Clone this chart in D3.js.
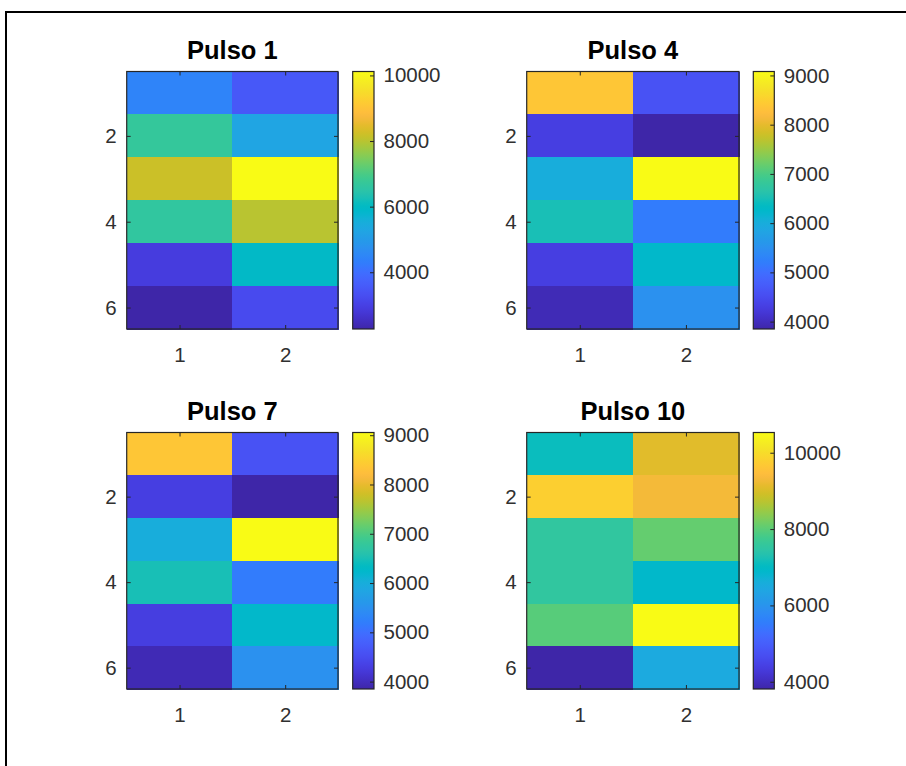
<!DOCTYPE html>
<html>
<head>
<meta charset="utf-8">
<script src="https://cdn.jsdelivr.net/npm/d3@7/dist/d3.min.js"></script>
<style>
  html, body { margin: 0; padding: 0; background: #fff; }
  svg { display: block; }
  .tick text { font-family: "Liberation Sans", Arial, Helvetica, sans-serif; fill: #303030; }
  .tick line { stroke: #262626; }
</style>
</head>
<body>
<svg id="fig" width="906" height="766"></svg>
<script>
// Pulse intensity maps: 6 rows x 2 columns per pulse
const panelTitles = ["Pulso 1", "Pulso 4", "Pulso 7", "Pulso 10"];

const pulso1 = [
  [4450, 3520],
  [6690, 5260],
  [8190, 10120],
  [6630, 8000],
  [2900, 5960],
  [2270, 3210]
];
const pulso4 = [
  [8370, 4600],
  [4305, 3850],
  [6000, 9080],
  [6510, 5180],
  [4300, 6260],
  [3950, 5510]
];
const pulso7 = [
  [8350, 4590],
  [4300, 3850],
  [5990, 9055],
  [6490, 5170],
  [4290, 6240],
  [3940, 5500]
];
const pulso10 = [
  [7100, 9090],
  [9790, 9300],
  [7545, 8080],
  [7545, 6900],
  [7970, 10530],
  [3810, 6490]
];

const xTicks = [1, 2];
const yTicks = [2, 4, 6];
const cbTicks1 = [4000, 6000, 8000, 10000];
const cbTicks4 = [4000, 5000, 6000, 7000, 8000, 9000];
const cbTicks7 = [4000, 5000, 6000, 7000, 8000, 9000];
const cbTicks10 = [4000, 6000, 8000, 10000];

// parula colormap, 64 entries
const parulaRGB = [
[0.2422,0.1504,0.6603],[0.2504,0.1650,0.7076],[0.2578,0.1818,0.7511],[0.2647,0.1978,0.7952],
[0.2706,0.2147,0.8364],[0.2751,0.2342,0.8710],[0.2783,0.2559,0.8991],[0.2803,0.2782,0.9221],
[0.2813,0.3006,0.9414],[0.2810,0.3228,0.9579],[0.2795,0.3447,0.9717],[0.2760,0.3667,0.9829],
[0.2699,0.3892,0.9906],[0.2602,0.4123,0.9952],[0.2440,0.4358,0.9988],[0.2206,0.4603,0.9973],
[0.1963,0.4847,0.9892],[0.1834,0.5074,0.9798],[0.1786,0.5289,0.9682],[0.1764,0.5499,0.9520],
[0.1687,0.5703,0.9359],[0.1540,0.5902,0.9218],[0.1460,0.6091,0.9079],[0.1380,0.6276,0.8973],
[0.1248,0.6459,0.8883],[0.1113,0.6635,0.8763],[0.0952,0.6798,0.8598],[0.0689,0.6948,0.8394],
[0.0297,0.7082,0.8163],[0.0036,0.7203,0.7917],[0.0067,0.7312,0.7660],[0.0433,0.7411,0.7394],
[0.0964,0.7500,0.7120],[0.1408,0.7584,0.6842],[0.1717,0.7670,0.6554],[0.1938,0.7758,0.6251],
[0.2161,0.7843,0.5923],[0.2470,0.7918,0.5567],[0.2906,0.7973,0.5188],[0.3406,0.8008,0.4789],
[0.3909,0.8029,0.4354],[0.4456,0.8024,0.3909],[0.5044,0.7993,0.3480],[0.5616,0.7942,0.3045],
[0.6174,0.7876,0.2612],[0.6720,0.7793,0.2227],[0.7242,0.7698,0.1910],[0.7738,0.7598,0.1646],
[0.8203,0.7498,0.1535],[0.8634,0.7406,0.1596],[0.9035,0.7330,0.1774],[0.9393,0.7288,0.2100],
[0.9728,0.7298,0.2394],[0.9956,0.7434,0.2371],[0.9970,0.7659,0.2199],[0.9952,0.7893,0.2028],
[0.9892,0.8136,0.1885],[0.9786,0.8386,0.1766],[0.9676,0.8639,0.1643],[0.9610,0.8890,0.1537],
[0.9597,0.9135,0.1423],[0.9628,0.9373,0.1265],[0.9691,0.9606,0.1064],[0.9769,0.9839,0.0805]
];
const parulaColors = parulaRGB.map(c => d3.rgb(c[0] * 255, c[1] * 255, c[2] * 255).formatHex());
const parula = d3.piecewise(d3.interpolateRgb, parulaColors);

const FONT = '"Liberation Sans", Arial, Helvetica, sans-serif';
const svg = d3.select("#fig");

svg.append("rect").attr("width", 906).attr("height", 766).attr("fill", "#fff");
// figure frame
svg.append("rect")
  .attr("x", 6).attr("y", 12).attr("width", 1000).attr("height", 1000)
  .attr("fill", "none").attr("stroke", "#000").attr("stroke-width", 2);

const defs = svg.append("defs");
defs.append("linearGradient")
  .attr("id", "parulaGrad")
  .attr("x1", 0).attr("y1", 1).attr("x2", 0).attr("y2", 0)
  .selectAll("stop")
  .data(parulaColors)
  .join("stop")
  .attr("offset", (d, i) => i / (parulaColors.length - 1))
  .attr("stop-color", d => d);

const panels = [
  { title: panelTitles[0], data: pulso1,  cbTicks: cbTicks1,  x0: 126.7, x1: 338,   y0: 71.5,  y1: 329, cx0: 352.7, cx1: 374 },
  { title: panelTitles[1], data: pulso4,  cbTicks: cbTicks4,  x0: 526.7, x1: 739,   y0: 71.5,  y1: 329, cx0: 753.3, cx1: 774.3 },
  { title: panelTitles[2], data: pulso7,  cbTicks: cbTicks7,  x0: 126.7, x1: 338,   y0: 432.5, y1: 689, cx0: 352.7, cx1: 374 },
  { title: panelTitles[3], data: pulso10, cbTicks: cbTicks10, x0: 526.7, x1: 739,   y0: 432.5, y1: 689, cx0: 753.3, cx1: 774.3 }
];

const intFmt = d3.format("d");

panels.forEach(p => {
  const nRows = p.data.length, nCols = p.data[0].length;
  const cells = [];
  p.data.forEach((row, r) => row.forEach((v, c) => cells.push({ row: r + 1, col: c + 1, v })));
  const extent = d3.extent(cells, d => d.v);

  const x = d3.scaleLinear().domain([0.5, nCols + 0.5]).range([p.x0, p.x1]);
  const y = d3.scaleLinear().domain([0.5, nRows + 0.5]).range([p.y0, p.y1]);
  const color = d3.scaleSequential(parula).domain(extent);

  const g = svg.append("g");

  // image cells
  g.selectAll("rect.cell")
    .data(cells)
    .join("rect")
    .attr("class", "cell")
    .attr("x", d => x(d.col - 0.5))
    .attr("y", d => y(d.row - 0.5))
    .attr("width", d => x(d.col + 0.5) - x(d.col - 0.5) + 0.5)
    .attr("height", d => y(d.row + 0.5) - y(d.row - 0.5) + 0.5)
    .attr("fill", d => color(d.v))
    .attr("shape-rendering", "crispEdges");

  // axes (ticks pointing inward)
  const fs = "20.5px";
  const bottom = g.append("g").attr("transform", `translate(0,${p.y1})`)
    .call(d3.axisBottom(x).tickValues(xTicks).tickFormat(intFmt).tickSizeInner(-4).tickSizeOuter(0).tickPadding(18));
  const left = g.append("g").attr("transform", `translate(${p.x0},0)`)
    .call(d3.axisLeft(y).tickValues(yTicks).tickFormat(intFmt).tickSizeInner(-4).tickSizeOuter(0).tickPadding(10));
  const top = g.append("g").attr("transform", `translate(0,${p.y0})`)
    .call(d3.axisTop(x).tickValues(xTicks).tickSizeInner(-4).tickSizeOuter(0).tickFormat(""));
  const right = g.append("g").attr("transform", `translate(${p.x1},0)`)
    .call(d3.axisRight(y).tickValues(yTicks).tickSizeInner(-4).tickSizeOuter(0).tickFormat(""));
  [bottom, left, top, right].forEach(a => {
    a.select(".domain").remove();
    a.selectAll("text").style("font-size", fs);
  });

  // axes box
  g.append("rect")
    .attr("x", p.x0).attr("y", p.y0)
    .attr("width", p.x1 - p.x0).attr("height", p.y1 - p.y0)
    .attr("fill", "none").attr("stroke", "#262626").attr("stroke-width", 1.2);

  // title
  g.append("text")
    .attr("x", (p.x0 + p.x1) / 2)
    .attr("y", p.y0 - 13)
    .attr("text-anchor", "middle")
    .style("font-family", FONT)
    .style("font-weight", "bold")
    .style("font-size", "25.5px")
    .style("fill", "#000")
    .text(p.title);

  // colorbar
  const cy = d3.scaleLinear().domain(extent).range([p.y1, p.y0]);
  g.append("rect")
    .attr("x", p.cx0).attr("y", p.y0)
    .attr("width", p.cx1 - p.cx0).attr("height", p.y1 - p.y0)
    .attr("fill", "url(#parulaGrad)");
  const cbAxis = g.append("g").attr("transform", `translate(${p.cx1},0)`)
    .call(d3.axisRight(cy).tickValues(p.cbTicks).tickSizeInner(-4).tickSizeOuter(0).tickPadding(9.5).tickFormat(intFmt));
  cbAxis.select(".domain").remove();
  cbAxis.selectAll("text").style("font-size", fs);
  g.append("rect")
    .attr("x", p.cx0).attr("y", p.y0)
    .attr("width", p.cx1 - p.cx0).attr("height", p.y1 - p.y0)
    .attr("fill", "none").attr("stroke", "#262626").attr("stroke-width", 1.2);
});
</script>
</body>
</html>
